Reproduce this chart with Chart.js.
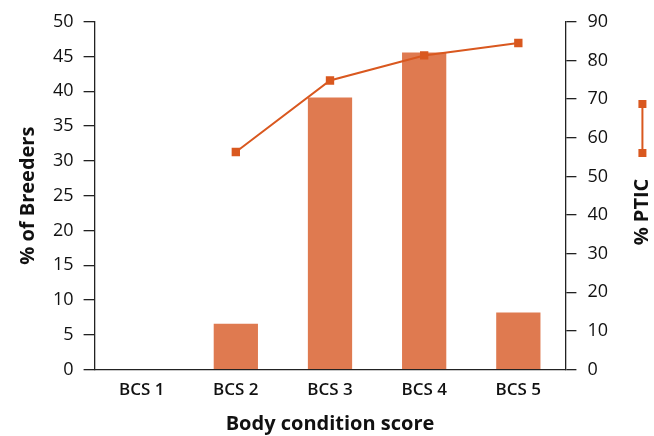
<!DOCTYPE html>
<html>
<head>
<meta charset="utf-8">
<script src="https://cdn.jsdelivr.net/npm/chart.js@4/dist/chart.umd.min.js"></script>
<style>
  html, body { margin: 0; padding: 0; background: #fff; }
  #wrap { width: 654px; height: 436px; }
</style>
</head>
<body>
<div id="wrap"><canvas id="mycanvas" width="654" height="436"></canvas></div>
<script>
var categories = ['BCS 1', 'BCS 2', 'BCS 3', 'BCS 4', 'BCS 5'];
var breeders = [0, 6.6, 39.1, 45.6, 8.2];
var ptic = [null, 56.3, 74.8, 81.3, 84.5];
var leftTicks = [0, 5, 10, 15, 20, 25, 30, 35, 40, 45, 50];
var rightTicks = [0, 10, 20, 30, 40, 50, 60, 70, 80, 90];

var barColor = '#DF7A50';
var lineColor = '#D9581F';
var fontFam = "'Open Sans', 'DejaVu Sans', sans-serif";

// right-hand title and the little line marker beside it
var extras = {
	id: 'extras',
	afterDraw: function(chart) {
		var c = chart.ctx;
		var x = chart.chartArea.right + 77;
		c.save();
		c.strokeStyle = lineColor;
		c.fillStyle = lineColor;
		c.lineWidth = 2;
		c.beginPath();
		c.moveTo(x, 104);
		c.lineTo(x, 153);
		c.stroke();
		c.fillRect(x - 4, 100, 8, 8);
		c.fillRect(x - 4, 149, 8, 8);
		c.translate(x, 212);
		c.rotate(-Math.PI / 2);
		c.fillStyle = '#111';
		c.font = 'bold 20px ' + fontFam;
		c.textAlign = 'center';
		c.textBaseline = 'middle';
		c.fillText('% PTIC', 0, 0);
		c.restore();
	}
};

var ctx = document.getElementById('mycanvas');
var chart = new Chart(ctx, {
	type: 'bar',
	data: {
		labels: categories,
		datasets: [
			{
				type: 'line',
				label: '% PTIC',
				data: ptic,
				yAxisID: 'y2',
				borderColor: lineColor,
				backgroundColor: lineColor,
				borderWidth: 2,
				pointStyle: 'rect',
				pointRadius: 4.5,
				pointHoverRadius: 4.5,
				tension: 0,
				order: 0
			},
			{
				label: '% of Breeders',
				data: breeders,
				yAxisID: 'y',
				backgroundColor: barColor,
				borderWidth: 0,
				barPercentage: 0.47,
				categoryPercentage: 1,
				order: 1
			}
		]
	},
	options: {
		responsive: false,
		animation: false,
		layout: { padding: { left: 16, right: 35, top: 10, bottom: 0 } },
		plugins: { legend: { display: false }, tooltip: { enabled: false } },
		scales: {
			x: {
				grid: { display: false },
				border: { display: true, color: '#222', width: 1.3 },
				ticks: { color: '#111', font: { family: fontFam, size: 17, weight: '600' }, padding: 2 },
				title: { display: true, text: 'Body condition score', color: '#111',
					font: { family: fontFam, size: 20, weight: 'bold' }, padding: { top: 10, bottom: 0 } }
			},
			y: {
				position: 'left',
				min: 0, max: 50,
				afterBuildTicks: function(s) { s.ticks = leftTicks.map(function(v) { return { value: v }; }); },
				grid: { drawOnChartArea: false, drawTicks: true, tickLength: 11, color: '#222', lineWidth: 1.3 },
				border: { display: true, color: '#222', width: 1.3 },
				ticks: { color: '#111', font: { family: fontFam, size: 18 }, padding: 10 },
				title: { display: true, text: '% of Breeders', color: '#111',
					font: { family: fontFam, size: 20, weight: 'bold' }, padding: { top: 0, bottom: 3 } }
			},
			y2: {
				position: 'right',
				min: 0, max: 90,
				afterBuildTicks: function(s) { s.ticks = rightTicks.map(function(v) { return { value: v }; }); },
				grid: { drawOnChartArea: false, drawTicks: true, tickLength: 11, color: '#222', lineWidth: 1.3 },
				border: { display: true, color: '#222', width: 1.3 },
				ticks: { color: '#111', font: { family: fontFam, size: 18 }, padding: 11 }
			}
		}
	},
	plugins: [extras]
});
</script>
</body>
</html>
